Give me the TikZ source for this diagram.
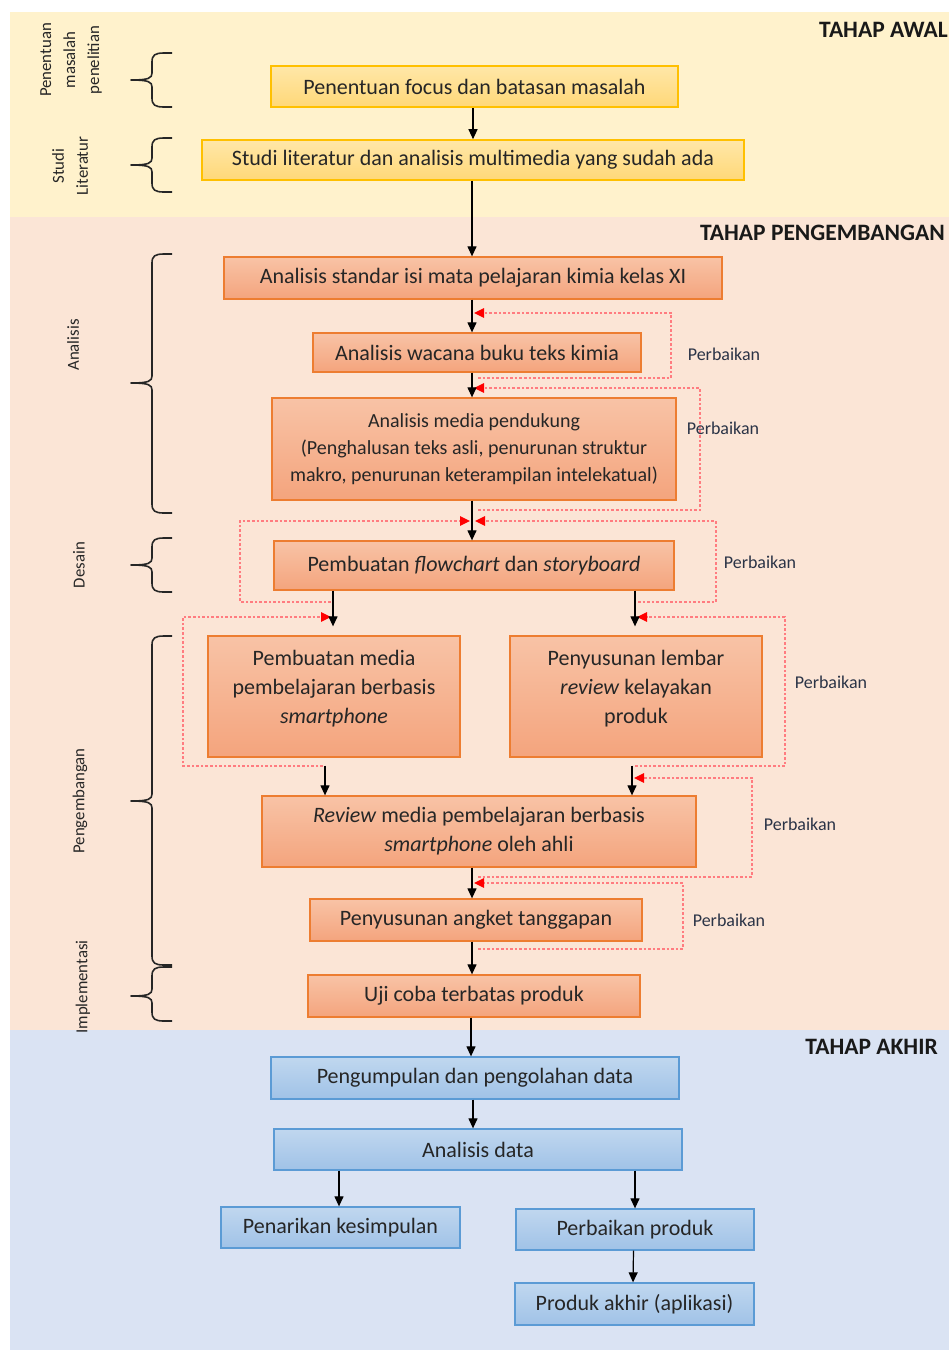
\documentclass[tikz,border=0pt]{standalone}
\usepackage{fontspec}
\setmainfont{Carlito}
\usetikzlibrary{arrows.meta}
\definecolor{bandY}{HTML}{FFF2CC}
\definecolor{bandO}{HTML}{FBE5D6}
\definecolor{bandB}{HTML}{DAE3F3}
\definecolor{yTop}{HTML}{FFE7A8}
\definecolor{yBot}{HTML}{FFD878}
\definecolor{yLine}{HTML}{FFC000}
\definecolor{oTop}{HTML}{F8C3A6}
\definecolor{oBot}{HTML}{F4A47D}
\definecolor{oLine}{HTML}{ED7D31}
\definecolor{bTop}{HTML}{C0D7EF}
\definecolor{bBot}{HTML}{A0C2E7}
\definecolor{bLine}{HTML}{5B9BD5}
\definecolor{txt}{HTML}{262626}
\definecolor{fbLine}{HTML}{FF7C80}
\definecolor{lbl}{HTML}{2B3447}
\newcommand{\mybrace}[3]{%
  \draw[brc] (172,#1) -- (164,#1) .. controls (155,#1) and (152,#1+2) .. (152,#1+9)
    -- (152,#2-7) .. controls (152,#2-2) and (149,#2) .. (131,#2)
    .. controls (149,#2) and (152,#2+2) .. (152,#2+7)
    -- (152,#3-9) .. controls (152,#3-2) and (155,#3) .. (164,#3) -- (172,#3);}
\begin{document}
\begin{tikzpicture}[x=1pt,y=-1pt,
  boxbase/.style={rectangle, inner sep=0pt, align=center, text=txt,
    font=\fontsize{22}{29}\selectfont},
  ybox/.style={boxbase, draw=yLine, line width=1.6pt, top color=yTop, bottom color=yBot},
  obox/.style={boxbase, draw=oLine, line width=1.3pt, top color=oTop, bottom color=oBot},
  bbox/.style={boxbase, draw=bLine, line width=1.3pt, top color=bTop, bottom color=bBot},
  arr/.style={line width=1.2pt, black, -{Triangle[length=10pt,width=9pt]}},
  fb/.style={line width=1.3pt, fbLine, dash pattern=on 2.6pt off 2pt,
    -{Triangle[length=10pt,width=9.5pt,color=red]}},
  fbl/.style={font=\fontsize{18}{22}\selectfont, text=lbl, inner sep=0pt},
  ttl/.style={font=\bfseries\fontsize{23.5}{28}\selectfont, text=black!90, inner sep=0pt, anchor=east},
  side/.style={font=\fontsize{16.8}{24}\selectfont, text=black!85, rotate=90, align=center, inner sep=0pt},
  brc/.style={line width=1.6pt, black!85, line join=round}
]
\useasboundingbox (0,0) rectangle (949,1350);
\fill[white] (0,0) rectangle (949,1350);
\fill[bandY] (10,12) rectangle (949,217);
\fill[bandO] (10,217) rectangle (949,1030);
\fill[bandB] (10,1030) rectangle (949,1350);

% titles
\node[ttl] (tA) at (948,30) {TAHAP AWAL};
\node[ttl] (tP) at (945,233) {TAHAP PENGEMBANGAN};
\node[ttl] (tK) at (938,1047) {TAHAP AKHIR};

% braces
\mybrace{53}{80}{107}
\mybrace{138}{165}{192}
\mybrace{254}{383}{513}
\mybrace{538}{565}{592}
\mybrace{636}{801}{965}
\mybrace{967}{996}{1021}

% side labels
\node[side] (s1) at (71,60) {Penentuan\\masalah\\penelitian};
\node[side] (s2) at (70,166) {Studi\\Literatur};
\node[side] (s3) at (73,345) {Analisis};
\node[side] (s4) at (79,565) {Desain};
\node[side] (s5) at (80,801) {Pengembangan};
\node[side] (s6) at (83,987) {Implementasi};

% boxes
\node[ybox, minimum width=407, minimum height=41] (n1) at (474.5,86.5) {Penentuan focus dan batasan masalah};
\node[ybox, minimum width=542, minimum height=40] (n2) at (473,160) {Studi literatur dan analisis multimedia yang sudah ada};
\node[obox, minimum width=498, minimum height=42] (n3) at (473,278) {Analisis standar isi mata pelajaran kimia kelas XI};
\node[obox, minimum width=328, minimum height=39] (n4) at (477,352.5) {Analisis wacana buku teks kimia};
\node[obox, minimum width=404, minimum height=102, font=\fontsize{20}{27}\selectfont] (n5) at (474,449) {Analisis media pendukung\\(Penghalusan teks asli, penurunan struktur\\makro, penurunan keterampilan intelekatual)};
\node[obox, minimum width=400, minimum height=49] (n6) at (474,565.5) {Pembuatan \textit{flowchart} dan \textit{storyboard}};
\node[obox, minimum width=252, minimum height=121, text depth=20pt] (n7) at (334,696.5) {Pembuatan media\\pembelajaran berbasis\\\textit{smartphone}};
\node[obox, minimum width=252, minimum height=121, text depth=20pt] (n8) at (636,696.5) {Penyusunan lembar\\\textit{review} kelayakan\\produk};
\node[obox, minimum width=434, minimum height=71] (n9) at (479,831.5) {\textit{Review} media pembelajaran berbasis\\\textit{smartphone} oleh ahli};
\node[obox, minimum width=332, minimum height=42] (n10) at (476,920) {Penyusunan angket tanggapan};
\node[obox, minimum width=332, minimum height=42] (n11) at (474,996) {Uji coba terbatas produk};
\node[bbox, minimum width=408, minimum height=42] (n12) at (475,1078) {Pengumpulan dan pengolahan data};
\node[bbox, minimum width=408, minimum height=41] (n13) at (478,1149.5) {Analisis data};
\node[bbox, minimum width=239, minimum height=41] (n14) at (340.5,1227.5) {Penarikan kesimpulan};
\node[bbox, minimum width=238, minimum height=41] (n15) at (635,1229.5) {Perbaikan produk};
\node[bbox, minimum width=239, minimum height=42] (n16) at (634.5,1304) {Produk akhir (aplikasi)};

% feedback loops
\coordinate (t1) at (474,313);
\coordinate (t2) at (474,388);
\coordinate (t3) at (475,521);
\coordinate (t4) at (470,521);
\coordinate (t5) at (331,617);
\coordinate (t6) at (637,617);
\coordinate (t7) at (634,778);
\coordinate (t8) at (474,883);
\draw[fb] (478,378) -- (671,378) -- (671,313) -- (t1);
\draw[fb] (478,510) -- (700,510) -- (700,388) -- (t2);
\draw[fb] (638,602) -- (716,602) -- (716,521) -- (t3);
\draw[fb] (331,602) -- (240,602) -- (240,521) -- (t4);
\draw[fb] (323,766) -- (183,766) -- (183,617) -- (t5);
\draw[fb] (635,766) -- (785,766) -- (785,617) -- (t6);
\draw[fb] (478,877) -- (752,877) -- (752,778) -- (t7);
\draw[fb] (478,949) -- (683,949) -- (683,883) -- (t8);

\node[fbl] (p1) at (724,354) {Perbaikan};
\node[fbl] (p2) at (723,428) {Perbaikan};
\node[fbl] (p3) at (760,562) {Perbaikan};
\node[fbl] (p4) at (831,682) {Perbaikan};
\node[fbl] (p5) at (800,824) {Perbaikan};
\node[fbl] (p6) at (729,920) {Perbaikan};

% arrows
\draw[arr] ([xshift=-1.5]n1.south) -- ([xshift=-1.5]n1.south |- n2.north);
\draw[arr] ([xshift=-1]n2.south) -- ([xshift=-1]n2.south |- n3.north);
\draw[arr] ([xshift=-1]n3.south) -- ([xshift=-1]n3.south |- n4.north);
\draw[arr] ([xshift=-1]n3.south |- n4.south) -- ([xshift=-1]n3.south |- n5.north);
\draw[arr] ([xshift=-2]n5.south) -- ([xshift=-2]n5.south |- n6.north);
\draw[arr, shorten >=9pt] ([xshift=-1]n7.north |- n6.south) -- ([xshift=-1]n7.north);
\draw[arr, shorten >=9pt] ([xshift=-1]n8.north |- n6.south) -- ([xshift=-1]n8.north);
\draw[arr, shorten <=8pt] ([xshift=-9]n7.south) -- ([xshift=-9]n7.south |- n9.north);
\draw[arr, shorten <=8pt] ([xshift=-4]n8.south) -- ([xshift=-4]n8.south |- n9.north);
\draw[arr] ([xshift=-7]n9.south) -- ([xshift=-7]n9.south |- n10.north);
\draw[arr] ([xshift=-4]n10.south) -- ([xshift=-4]n10.south |- n11.north);
\draw[arr] ([xshift=-3]n11.south) -- ([xshift=-3]n11.south |- n12.north);
\draw[arr] ([xshift=-2]n12.south) -- ([xshift=-2]n12.south |- n13.north);
\draw[arr] ([xshift=-1.5]n14.north |- n13.south) -- ([xshift=-1.5]n14.north);
\draw[arr] (n15.north |- n13.south) -- (n15.north);
\draw[arr] ([xshift=-1.5]n15.south) -- ([xshift=-1.5]n16.north);
\end{tikzpicture}
\end{document}
